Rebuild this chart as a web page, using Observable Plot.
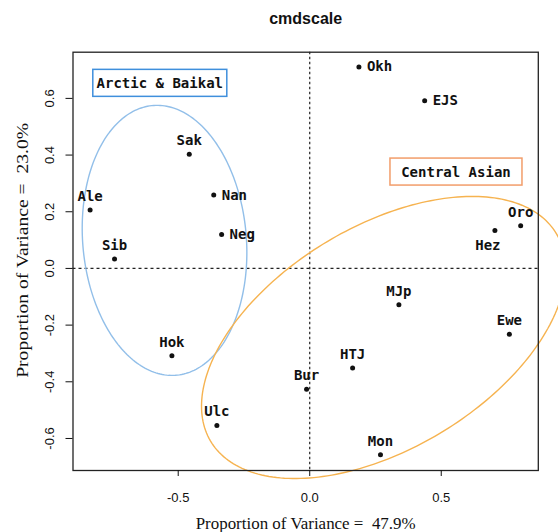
<!DOCTYPE html>
<html><head><meta charset="utf-8">
<script src="https://cdn.jsdelivr.net/npm/d3@7"></script>
<script src="https://cdn.jsdelivr.net/npm/@observablehq/plot@0.6"></script>
<style>body{margin:0;background:#fff}</style>
</head><body><div id="chart"></div>
<script>
// ---- data ----
const names = ["Okh","EJS","Sak","Nan","Neg","Ale","Sib","Hok","Ulc","Bur","HTJ","Mon","MJp","Ewe","Hez","Oro"];
const dim1 = [0.187, 0.437, -0.458, -0.365, -0.335, -0.835, -0.742, -0.524, -0.353, -0.012, 0.163, 0.269, 0.339, 0.759, 0.704, 0.802];
const dim2 = [0.711, 0.592, 0.403, 0.259, 0.120, 0.206, 0.033, -0.308, -0.554, -0.426, -0.351, -0.657, -0.128, -0.232, 0.134, 0.151];
const labelPos = ["right","right","top","right","right","top","top","top","top","top","top","top","top","top","bottomleft","top"];
const xTicks = [-0.5, 0, 0.5];
const yTicks = [-0.6, -0.4, -0.2, 0, 0.2, 0.4, 0.6];
const xDomain = [-0.900, 0.869];
const yDomain = [-0.713, 0.763];
const titleText = "cmdscale";
const xLabel = "Proportion of Variance =  47.9%";
const yLabel = "Proportion of Variance =  23.0%";
// groups (confidence ellipses + labels)
const groupNames = ["Arctic & Baikal", "Central Asian"];
const groupLabelX = [-0.570, 0.556];
const groupLabelY = [0.653, 0.340];
const ellipseCx = [-0.552, 0.2806];
const ellipseCy = [0.099, -0.2436];
const ellipseSx = [0.313, 0.692];
const ellipseSy = [0.4765, 0.4977];
const ellipseR = [-0.09, 0.487];
const boxColors = ["#3f8fdc", "#f29d6a"];
const ellipseColors = ["#92bfe9", "#f6b350"];
const boxW = [134, 132], boxH = 27;

// ---- build ----
const idx = d3.range(names.length);
const ellipsePts = [];
groupNames.forEach((g, k) => {
  const n = 240;
  for (let j = 0; j <= n; j++) {
    const t = 2 * Math.PI * j / n;
    ellipsePts.push({
      g: k,
      x: ellipseCx[k] + ellipseSx[k] * Math.cos(t),
      y: ellipseCy[k] + ellipseSy[k] * (ellipseR[k] * Math.cos(t) + Math.sqrt(1 - ellipseR[k] ** 2) * Math.sin(t))
    });
  }
});
const fmt = d => d.toFixed(1);
const labelFont = "DejaVu Sans Mono, monospace";
const sansFont = "Liberation Sans, Arial, sans-serif";
const serifFont = "Liberation Serif, Times New Roman, serif";
const sel = p => idx.filter(i => labelPos[i] === p);
const X = i => dim1[i], Y = i => dim2[i], T = i => names[i];

const chart = Plot.plot({
  width: 558, height: 532,
  marginLeft: 72.5, marginRight: 20.2, marginTop: 51.7, marginBottom: 62,
  style: {background: "#fff", color: "#111"},
  x: {domain: xDomain},
  y: {domain: yDomain},
  marks: [
    Plot.ruleX([0], {stroke: "#222", strokeDasharray: "2.5,2.5", strokeWidth: 1.2}),
    Plot.ruleY([0], {stroke: "#222", strokeDasharray: "3,3", strokeWidth: 1.2}),
    Plot.line(ellipsePts, {x: "x", y: "y", z: "g", stroke: d => ellipseColors[d.g], strokeWidth: 1.4}),
    Plot.frame({stroke: "#222", strokeWidth: 1.3}),
    Plot.axisX({ticks: xTicks, tickFormat: fmt, tickSize: 6, tickPadding: 16, fontSize: 13, fontFamily: sansFont, label: null}),
    Plot.axisY({ticks: yTicks, tickFormat: fmt, tickSize: 7, tickRotate: -90, tickPadding: 12, fontSize: 13, fontFamily: sansFont, label: null}),
    Plot.dot(idx, {x: X, y: Y, r: 2.5, fill: "#111", stroke: null}),
    Plot.text(sel("top"), {x: X, y: Y, text: T, dy: -13.5, fontSize: 14, fontWeight: "bold", fontFamily: labelFont, fill: "#111"}),
    Plot.text(sel("right"), {x: X, y: Y, text: T, dx: 8, textAnchor: "start", fontSize: 14, fontWeight: "bold", fontFamily: labelFont, fill: "#111"}),
    Plot.text(sel("bottomleft"), {x: X, y: Y, text: T, dx: -7, dy: 15, fontSize: 14, fontWeight: "bold", fontFamily: labelFont, fill: "#111"}),
    Plot.text(d3.range(groupNames.length), {x: k => groupLabelX[k], y: k => groupLabelY[k], text: k => groupNames[k], fontSize: 14, fontFamily: labelFont, fontWeight: "bold", fill: "#111", className: "grp"}),
    Plot.text([titleText], {text: d => d, frameAnchor: "top", lineAnchor: "middle", dy: -33.7, fontSize: 16, fontWeight: "bold", fontFamily: sansFont, fill: "#111"}),
    Plot.text([xLabel], {text: d => d, frameAnchor: "bottom", lineAnchor: "middle", dy: 53, fontSize: 16.5, fontFamily: serifFont, fill: "#111", className: "xlab"}),
    Plot.text([yLabel], {text: d => d, frameAnchor: "left", textAnchor: "middle", lineAnchor: "middle", dx: -50.5, dy: -11, rotate: -90, fontSize: 16.5, fontFamily: serifFont, fill: "#111", className: "ylab"})
  ]
});
document.getElementById("chart").appendChild(chart);

// stretch axis titles to the reference lengths
chart.querySelectorAll(".xlab text").forEach(t => { t.setAttribute("textLength", 220); t.setAttribute("lengthAdjust", "spacingAndGlyphs"); });
chart.querySelectorAll(".ylab text").forEach(t => { t.setAttribute("textLength", 255); t.setAttribute("lengthAdjust", "spacingAndGlyphs"); });
// boxes around the group labels
chart.querySelectorAll(".grp text").forEach((t, k) => {
  const b = t.getBBox();
  const cx = b.x + b.width / 2, cy = b.y + b.height / 2;
  const r = document.createElementNS("http://www.w3.org/2000/svg", "rect");
  r.setAttribute("x", cx - boxW[k] / 2);
  r.setAttribute("y", cy - boxH / 2);
  r.setAttribute("width", boxW[k]);
  r.setAttribute("height", boxH);
  r.setAttribute("fill", "#fff");
  r.setAttribute("stroke", boxColors[k]);
  r.setAttribute("stroke-width", 1.5);
  if (t.getAttribute("transform")) r.setAttribute("transform", t.getAttribute("transform"));
  t.parentNode.insertBefore(r, t);
});
</script>
</body></html>
